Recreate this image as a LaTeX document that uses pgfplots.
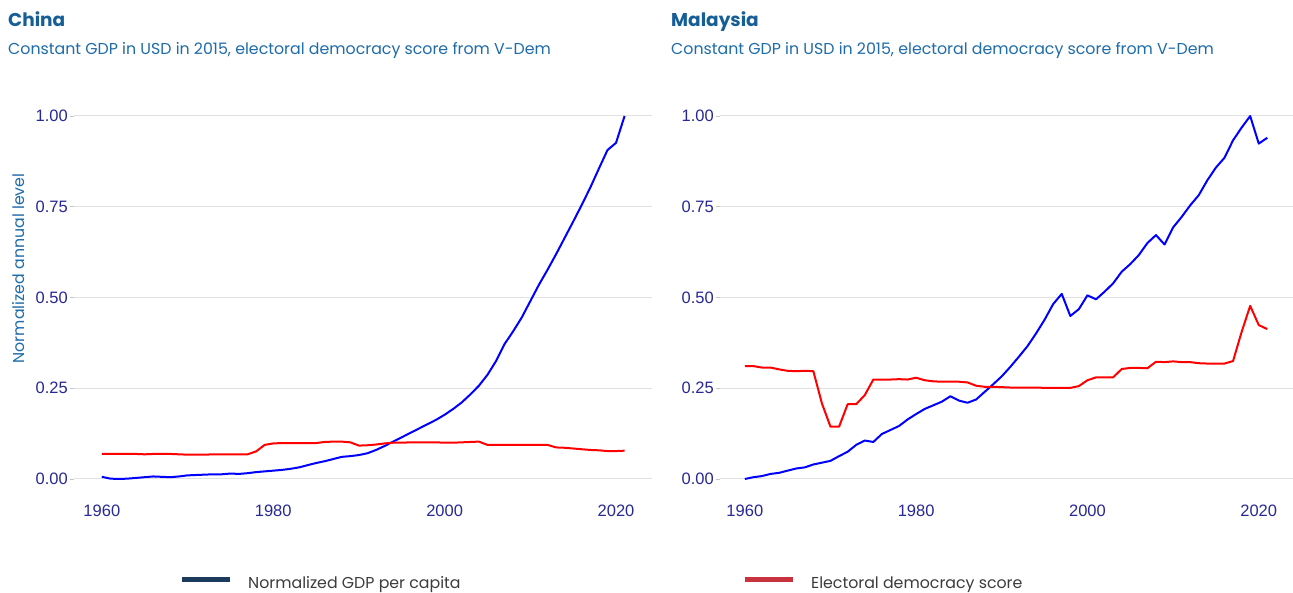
\documentclass[border=0pt]{standalone}
\usepackage{pgfplots}
\pgfplotsset{compat=1.18}
\usepackage{fontspec}
\setmainfont{Poppins}
\newfontfamily\tickfont{Liberation Sans}
\definecolor{titleblue}{RGB}{22,94,150}
\definecolor{subblue}{RGB}{30,108,170}
\definecolor{ticknavy}{RGB}{40,40,150}
\definecolor{gridgray}{RGB}{225,225,225}
\definecolor{legnavy}{RGB}{28,58,92}
\definecolor{legred}{RGB}{200,50,60}
\definecolor{legtext}{RGB}{60,60,60}

\pgfplotsset{
  panel/.style={
    scale only axis,
    height=399.3bp,
    ymin=-0.05, ymax=1.05,
    axis line style={draw=none},
    ytick={0,0.25,0.5,0.75,1},
    xtick={1960,1980,2000,2020},
    ymajorgrids,
    grid style={color=gridgray, line width=1bp},
    xtick style={draw=none},
    ytick style={draw=gray!45, line width=0.8bp},
    tick align=outside,
    major tick length=4bp,
    xtick pos=bottom, ytick pos=left,
    /pgf/number format/assume math mode=true,
    tick label style={font=\tickfont\fontsize{16.5bp}{18bp}\selectfont, text=ticknavy},
    yticklabel style={inner sep=2bp, /pgf/number format/fixed, /pgf/number format/fixed zerofill, /pgf/number format/precision=2},
    xticklabel style={/pgf/number format/1000 sep={}},
    legend style={draw=none, fill=none, anchor=west,
      font=\fontsize{15.8bp}{17bp}\selectfont, text=legtext,
      nodes={inner sep=0bp}, column sep=16bp},
    legend image code/.code={\draw[#1] (0bp,0.42em) -- (48bp,0.42em);},
  },
  gdp/.style={color=blue, line width=2bp, line join=round},
  dem/.style={color=red, line width=2bp, line join=round},
}

\begin{document}
\begin{tikzpicture}
\path[use as bounding box, fill=white] (0,0) rectangle (1293bp,593bp);

% titles
\node[anchor=base west, inner sep=0, text=titleblue, font=\bfseries\fontsize{18.5bp}{22bp}\selectfont] at (8bp,566.3bp) {China};
\node[anchor=base west, inner sep=0, text=subblue, font=\fontsize{15.8bp}{18bp}\selectfont] at (8bp,538bp) {Constant GDP in USD in 2015, electoral democracy score from V-Dem};
\node[anchor=base west, inner sep=0, text=titleblue, font=\bfseries\fontsize{18.5bp}{22bp}\selectfont] at (671bp,566.3bp) {Malaysia};
\node[anchor=base west, inner sep=0, text=subblue, font=\fontsize{15.8bp}{18bp}\selectfont] at (671bp,538bp) {Constant GDP in USD in 2015, electoral democracy score from V-Dem};
\node[rotate=90, inner sep=0, text=subblue, font=\fontsize{15.8bp}{18bp}\selectfont] at (19bp,324.5bp) {Normalized annual level};

\begin{axis}[panel, width=578bp, at={(74bp,95.85bp)}, anchor=south west,
  xmin=1956.75, xmax=2024.2,
  legend style={at={(axis description cs:0.1765,-0.2165)}}]
\addlegendimage{color=legnavy, line width=5bp}
\addlegendentry{Normalized GDP per capita}
\addplot[gdp] coordinates {
(1960,0.006)(1961,0.001)(1962,0.000)(1963,0.001)(1964,0.003)(1965,0.005)(1966,0.007)(1967,0.006)(1968,0.005)(1969,0.007)
(1970,0.010)(1971,0.011)(1972,0.012)(1973,0.013)(1974,0.013)(1975,0.015)(1976,0.014)(1977,0.016)(1978,0.019)(1979,0.021)
(1980,0.023)(1981,0.025)(1982,0.028)(1983,0.032)(1984,0.038)(1985,0.044)(1986,0.049)(1987,0.055)(1988,0.061)(1989,0.063)
(1990,0.066)(1991,0.071)(1992,0.080)(1993,0.091)(1994,0.103)(1995,0.115)(1996,0.127)(1997,0.139)(1998,0.151)(1999,0.163)
(2000,0.177)(2001,0.193)(2002,0.211)(2003,0.233)(2004,0.257)(2005,0.287)(2006,0.325)(2007,0.372)(2008,0.407)(2009,0.445)
(2010,0.490)(2011,0.535)(2012,0.576)(2013,0.619)(2014,0.664)(2015,0.709)(2016,0.755)(2017,0.803)(2018,0.855)(2019,0.906)
(2020,0.926)(2021,1.000)};
\addplot[dem] coordinates {
(1960,0.069)(1961,0.069)(1962,0.069)(1963,0.069)(1964,0.069)(1965,0.068)(1966,0.069)(1967,0.069)(1968,0.069)(1969,0.068)
(1970,0.067)(1971,0.067)(1972,0.067)(1973,0.068)(1974,0.068)(1975,0.068)(1976,0.068)(1977,0.068)(1978,0.076)(1979,0.094)
(1980,0.098)(1981,0.099)(1982,0.099)(1983,0.099)(1984,0.099)(1985,0.099)(1986,0.102)(1987,0.103)(1988,0.103)(1989,0.101)
(1990,0.092)(1991,0.093)(1992,0.095)(1993,0.098)(1994,0.100)(1995,0.100)(1996,0.101)(1997,0.101)(1998,0.101)(1999,0.101)
(2000,0.100)(2001,0.100)(2002,0.101)(2003,0.102)(2004,0.103)(2005,0.094)(2006,0.094)(2007,0.094)(2008,0.094)(2009,0.094)
(2010,0.094)(2011,0.094)(2012,0.094)(2013,0.087)(2014,0.086)(2015,0.084)(2016,0.082)(2017,0.080)(2018,0.079)(2019,0.077)
(2020,0.077)(2021,0.078)};
\end{axis}

\begin{axis}[panel, width=573bp, at={(720bp,95.85bp)}, anchor=south west,
  xmin=1957.1, xmax=2024.0,
  legend style={at={(axis description cs:0.0331,-0.2165)}}]
\addlegendimage{color=legred, line width=5bp}
\addlegendentry{Electoral democracy score}
\addplot[gdp] coordinates {
(1960,0.000)(1961,0.005)(1962,0.008)(1963,0.014)(1964,0.017)(1965,0.023)(1966,0.029)(1967,0.032)(1968,0.040)(1969,0.045)
(1970,0.050)(1971,0.063)(1972,0.075)(1973,0.094)(1974,0.106)(1975,0.102)(1976,0.124)(1977,0.135)(1978,0.146)(1979,0.164)
(1980,0.179)(1981,0.193)(1982,0.203)(1983,0.213)(1984,0.228)(1985,0.216)(1986,0.210)(1987,0.219)(1988,0.240)(1989,0.261)
(1990,0.283)(1991,0.309)(1992,0.337)(1993,0.366)(1994,0.401)(1995,0.439)(1996,0.482)(1997,0.510)(1998,0.449)(1999,0.468)
(2000,0.506)(2001,0.495)(2002,0.516)(2003,0.539)(2004,0.571)(2005,0.592)(2006,0.617)(2007,0.650)(2008,0.672)(2009,0.646)
(2010,0.693)(2011,0.722)(2012,0.754)(2013,0.782)(2014,0.823)(2015,0.858)(2016,0.885)(2017,0.933)(2018,0.968)(2019,1.000)
(2020,0.924)(2021,0.940)};
\addplot[dem] coordinates {
(1960,0.311)(1961,0.311)(1962,0.307)(1963,0.307)(1964,0.302)(1965,0.298)(1966,0.297)(1967,0.298)(1968,0.297)(1969,0.208)
(1970,0.144)(1971,0.144)(1972,0.206)(1973,0.206)(1974,0.231)(1975,0.274)(1976,0.274)(1977,0.274)(1978,0.275)(1979,0.274)
(1980,0.279)(1981,0.272)(1982,0.269)(1983,0.268)(1984,0.268)(1985,0.268)(1986,0.266)(1987,0.257)(1988,0.254)(1989,0.254)
(1990,0.253)(1991,0.252)(1992,0.252)(1993,0.252)(1994,0.252)(1995,0.251)(1996,0.251)(1997,0.251)(1998,0.251)(1999,0.256)
(2000,0.272)(2001,0.280)(2002,0.280)(2003,0.280)(2004,0.303)(2005,0.306)(2006,0.306)(2007,0.305)(2008,0.323)(2009,0.322)
(2010,0.324)(2011,0.322)(2012,0.322)(2013,0.319)(2014,0.318)(2015,0.318)(2016,0.318)(2017,0.325)(2018,0.405)(2019,0.477)
(2020,0.424)(2021,0.413)};
\end{axis}
\end{tikzpicture}
\end{document}
